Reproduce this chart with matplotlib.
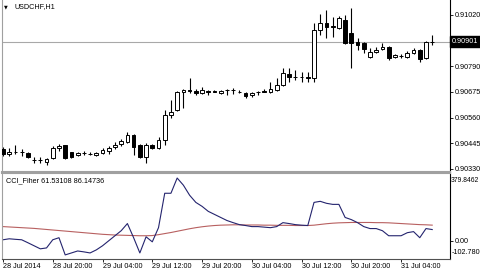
import numpy as np
import matplotlib
matplotlib.use('Agg')
import matplotlib.pyplot as plt

plt.rcParams['font.family'] = ['Liberation Sans', 'DejaVu Sans']

# USDCHF H1, one bar per hour starting 28 Jul 2014 12:00
opens = np.array([0.90420, 0.90397, 0.90406, 0.90404, 0.90402, 0.90372, 0.90370, 0.90361, 0.90379, 0.90424,
                  0.90437, 0.90406, 0.90393, 0.90402, 0.90397, 0.90393, 0.90402, 0.90411, 0.90428, 0.90442,
                  0.90451, 0.90482, 0.90437, 0.90384, 0.90437, 0.90424, 0.90460, 0.90572, 0.90594, 0.90675,
                  0.90682, 0.90679, 0.90670, 0.90679, 0.90679, 0.90670, 0.90684, 0.90684, 0.90677, 0.90670,
                  0.90661, 0.90675, 0.90679, 0.90675, 0.90684, 0.90706, 0.90756, 0.90742, 0.90742, 0.90740,
                  0.90738, 0.90953, 0.90984, 0.90971, 0.90962, 0.90997, 0.90939, 0.90899, 0.90894, 0.90832,
                  0.90854, 0.90867, 0.90876, 0.90832, 0.90836, 0.90832, 0.90850, 0.90863, 0.90827, 0.90899])
highs = np.array([0.90428, 0.90424, 0.90437, 0.90420, 0.90406, 0.90384, 0.90384, 0.90379, 0.90433, 0.90442,
                  0.90437, 0.90406, 0.90406, 0.90411, 0.90406, 0.90406, 0.90424, 0.90433, 0.90451, 0.90464,
                  0.90496, 0.90487, 0.90442, 0.90446, 0.90442, 0.90473, 0.90594, 0.90639, 0.90679, 0.90688,
                  0.90738, 0.90688, 0.90697, 0.90684, 0.90684, 0.90684, 0.90688, 0.90693, 0.90684, 0.90675,
                  0.90675, 0.90679, 0.90688, 0.90720, 0.90738, 0.90782, 0.90782, 0.90773, 0.90764, 0.90764,
                  0.90984, 0.91024, 0.91042, 0.91011, 0.91015, 0.91020, 0.91051, 0.90917, 0.90899, 0.90872,
                  0.90876, 0.90894, 0.90881, 0.90845, 0.90845, 0.90859, 0.90872, 0.90867, 0.90903, 0.90930])
lows = np.array([0.90388, 0.90388, 0.90397, 0.90388, 0.90379, 0.90357, 0.90357, 0.90348, 0.90375, 0.90411,
                 0.90375, 0.90379, 0.90388, 0.90393, 0.90393, 0.90388, 0.90397, 0.90397, 0.90420, 0.90433,
                 0.90446, 0.90393, 0.90379, 0.90357, 0.90420, 0.90420, 0.90437, 0.90558, 0.90590, 0.90603,
                 0.90670, 0.90661, 0.90666, 0.90661, 0.90675, 0.90666, 0.90661, 0.90666, 0.90670, 0.90648,
                 0.90652, 0.90661, 0.90675, 0.90670, 0.90679, 0.90702, 0.90720, 0.90729, 0.90720, 0.90720,
                 0.90720, 0.90930, 0.90917, 0.90921, 0.90957, 0.90890, 0.90782, 0.90863, 0.90850, 0.90827,
                 0.90850, 0.90863, 0.90818, 0.90827, 0.90827, 0.90827, 0.90845, 0.90809, 0.90823, 0.90885])
closes = np.array([0.90397, 0.90406, 0.90404, 0.90406, 0.90384, 0.90370, 0.90368, 0.90375, 0.90424, 0.90433,
                   0.90379, 0.90384, 0.90402, 0.90400, 0.90395, 0.90402, 0.90415, 0.90424, 0.90437, 0.90455,
                   0.90482, 0.90428, 0.90384, 0.90437, 0.90424, 0.90460, 0.90572, 0.90585, 0.90675, 0.90684,
                   0.90679, 0.90670, 0.90684, 0.90677, 0.90677, 0.90679, 0.90682, 0.90682, 0.90673, 0.90657,
                   0.90670, 0.90673, 0.90677, 0.90688, 0.90706, 0.90760, 0.90742, 0.90740, 0.90740, 0.90738,
                   0.90953, 0.90984, 0.90966, 0.90966, 0.91006, 0.90894, 0.90894, 0.90885, 0.90867, 0.90854,
                   0.90863, 0.90876, 0.90827, 0.90841, 0.90834, 0.90850, 0.90863, 0.90823, 0.90899, 0.90901])

cci = np.array([4.5, 10, 7, 4.5, -12, -29, -46, -41, 4.5, 16,
                -80, -69, -58, -63, -69, -52, -29, -1, 27, 55,
                95, 16, -69, 21, -7, 72, 264, 264, 349, 309,
                253, 213, 191, 163, 146, 129, 112, 100, 89, 84,
                78, 78, 75, 72, 78, 100, 95, 89, 86, 84,
                213, 219, 208, 202, 202, 129, 117, 100, 78, 67,
                67, 55, 27, 27, 27, 44, 50, 16, 67, 61.53108])
signal = np.array([78, 76, 74, 72, 70, 68, 65, 62, 59, 56,
                   53, 50, 47, 44, 41, 38, 35, 33, 31, 30,
                   29, 28, 27, 27, 28, 33, 39, 45, 52, 59,
                   66, 72, 77, 81, 84, 86, 87, 88, 88, 87,
                   87, 87, 86, 86, 85, 85, 85, 84, 84, 84,
                   86, 90, 94, 97, 99, 100, 101, 101, 101, 101,
                   100, 100, 99, 97, 95, 93, 91, 89, 88, 86.14736])

price_ticks = [0.90330, 0.90445, 0.90560, 0.90675, 0.90790, 0.91020]
last_price = 0.90901
date_pos = [0, 8, 16, 24, 32, 40, 48, 56, 64]
date_labels = ['28 Jul 2014', '28 Jul 20:00', '29 Jul 04:00', '29 Jul 12:00', '29 Jul 20:00',
               '30 Jul 04:00', '30 Jul 12:00', '30 Jul 20:00', '31 Jul 04:00']
cci_max, cci_min = 379.8462, -102.780

W, H = 480, 270
def rect(x0, y0, x1, y1):
    return [x0 / W, 1 - y1 / H, (x1 - x0) / W, (y1 - y0) / H]

fig = plt.figure(figsize=(4.8, 2.7), dpi=100)
ax = fig.add_axes(rect(2, 0, 450, 171.5))
ax2 = fig.add_axes(rect(2, 172.5, 450, 259))
fs = 5.2

# candles
idx = np.arange(len(opens))
up = closes >= opens
ax.vlines(idx, lows, highs, color='black', lw=0.8, zorder=2)
bottoms = np.minimum(opens, closes)
heights = np.maximum(np.abs(closes - opens), 0.000004)
ax.bar(idx, heights, bottom=bottoms, width=0.6, color=np.where(up, 'white', 'black'),
       edgecolor='black', linewidth=0.7, zorder=3)
ax.axhline(last_price, color='#a8a8a8', lw=0.8, zorder=1)

ax.set_xlim(-0.16, 71.86)
ax.set_ylim(0.903187, 0.91087)
ax.yaxis.tick_right()
ax.set_yticks(price_ticks)
ax.set_yticklabels(['%.5f' % p for p in price_ticks], fontsize=fs)
ax.tick_params(axis='y', direction='out', length=2.5, width=0.6, pad=1)
ax.set_xticks([])
ax.spines['top'].set_visible(False)
ax.spines['left'].set_color('#a0a0a0')
ax.spines['bottom'].set_color('#a0a0a0')
ax.spines['bottom'].set_linewidth(1.5)
ax.spines['right'].set_color('black')
ax.spines['right'].set_linewidth(0.8)
ax.text(1.003, last_price, '%.5f' % last_price, transform=ax.get_yaxis_transform(),
        fontsize=fs, color='white', va='center', ha='left',
        bbox=dict(boxstyle='square,pad=0.25', fc='black', ec='black'))
ax.text(0.005, 0.975, '\u25bc', transform=ax.transAxes, fontsize=3.5, va='top', ha='left',
        family=['DejaVu Sans'])
ax.text(0.027, 0.985, 'USDCHF,H1', transform=ax.transAxes, fontsize=fs, va='top', ha='left')

# indicator
ax2.plot(idx, signal, color='#b86060', lw=0.8)
ax2.plot(idx, cci, color='#24246e', lw=0.8)
ax2.set_xlim(-0.16, 71.86)
ax2.set_ylim(cci_min, cci_max)
ax2.yaxis.tick_right()
ax2.set_yticks([0])
ax2.set_yticklabels(['0.00'], fontsize=fs)
ax2.tick_params(axis='y', direction='out', length=2.5, width=0.6, pad=1)
ax2.set_xticks(date_pos)
ax2.set_xticklabels(date_labels, fontsize=fs, ha='left')
ax2.tick_params(axis='x', direction='out', length=2, width=0.6, pad=1)
ax2.spines['top'].set_color('#a0a0a0')
ax2.spines['top'].set_linewidth(1.5)
ax2.spines['left'].set_color('#a0a0a0')
ax2.spines['bottom'].set_color('#505050')
ax2.spines['right'].set_color('black')
ax2.spines['right'].set_linewidth(0.8)
ax2.text(1.002, 0.91, '%.4f' % cci_max, transform=ax2.transAxes, fontsize=4.9, va='center', ha='left')
ax2.text(1.003, 0.07, '%.3f' % cci_min, transform=ax2.transAxes, fontsize=fs, va='center', ha='left')
ax2.text(0.009, 0.91, 'CCI_Fiher %.5f %.5f' % (cci[-1], signal[-1]), transform=ax2.transAxes,
         fontsize=fs, va='center', ha='left')

fig.savefig('out.png', dpi=100)
